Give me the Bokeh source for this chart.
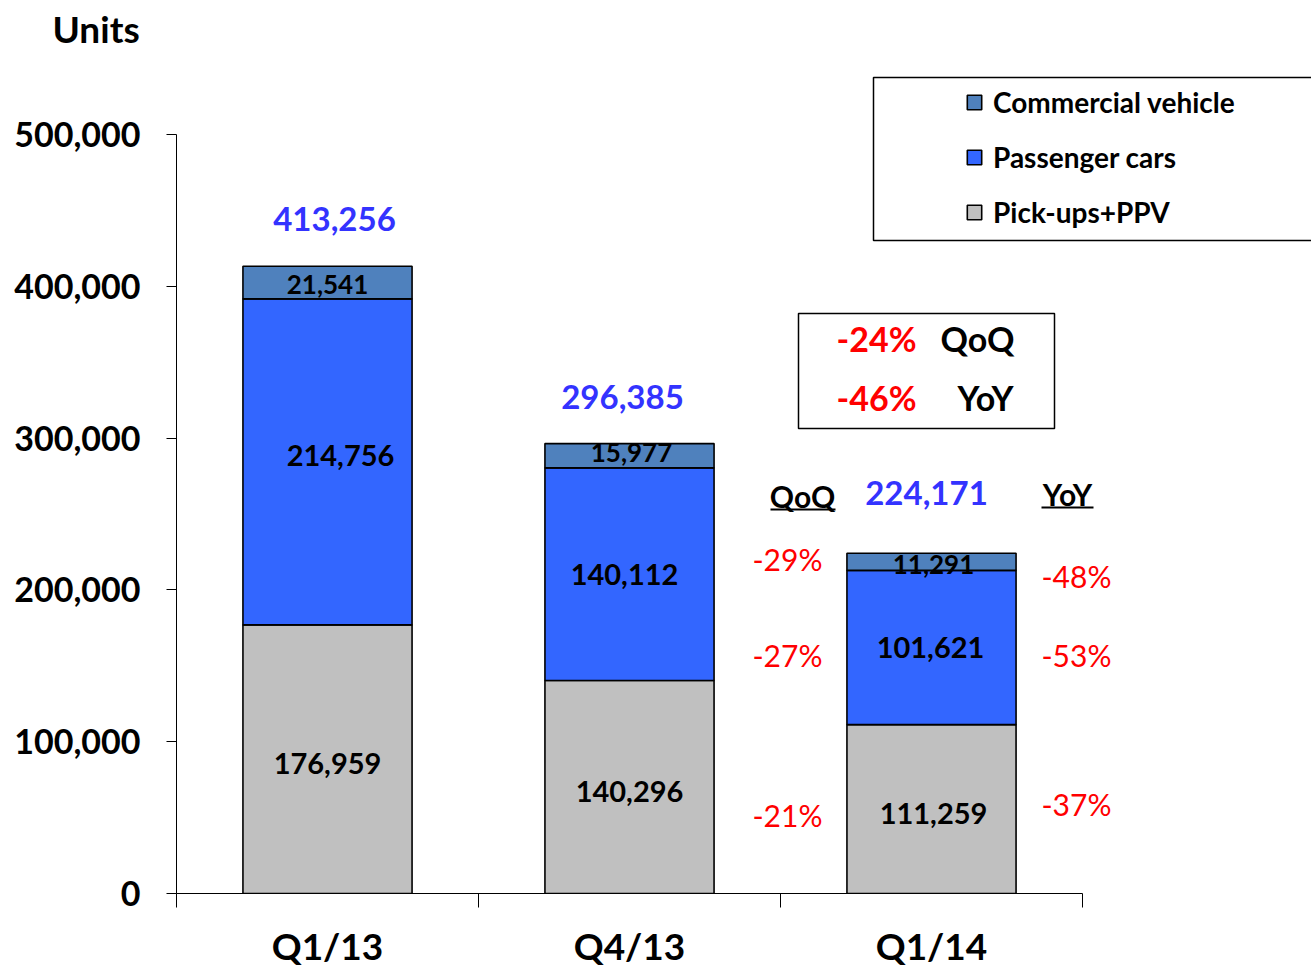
from bokeh.plotting import figure
from bokeh.models import (Range1d, FixedTicker, Legend, LegendItem, Label,
                          BoxAnnotation, ColumnDataSource, NumeralTickFormatter)
from bokeh.core.properties import value
from bokeh.embed import file_html
from bokeh.resources import INLINE

# ---------------- data ----------------
categories = ["Q1/13", "Q4/13", "Q1/14"]
pickups = [176959, 140296, 111259]
passenger = [214756, 140112, 101621]
commercial = [21541, 15977, 11291]
totals = [413256, 296385, 224171]
qoq_labels = ["-29%", "-27%", "-21%"]   # commercial, passenger, pick-ups (Q1/14 vs Q4/13)
yoy_labels = ["-48%", "-53%", "-37%"]   # commercial, passenger, pick-ups (Q1/14 vs Q1/13)
summary_qoq = "-24%"
summary_yoy = "-46%"
y_ticks = [0, 100000, 200000, 300000, 400000, 500000]
series_names = ["Pick-ups+PPV", "Passenger cars", "Commercial vehicle"]

# ---------------- style / layout ----------------
FONT = "Lato"
C_PICK, C_PASS, C_COMM = "#C0C0C0", "#3366FF", "#4F81BD"
BLUE_TXT, RED = "#3333FF", "#FF0000"
W, H = 1311, 970
LEFT = 176            # frame left
BOTTOM = 77           # bottom border (frame bottom at 893)
TOP = 54              # title band
CAT_PX = 302.0        # px per category
Y_PX = 759.0 / 500000 # px per unit
FH = H - BOTTOM - TOP
FW = W - LEFT

def fx(rx):  # picture x -> data x
    return (rx - LEFT) / CAT_PX

def fy(ry):  # picture y -> data y
    return (H - BOTTOM - ry) / Y_PX

p = figure(width=W, height=H, output_backend="svg", toolbar_location=None,
           x_range=Range1d(0, FW / CAT_PX), y_range=Range1d(0, FH / Y_PX),
           min_border_left=LEFT, min_border_right=0, min_border_top=TOP,
           min_border_bottom=BOTTOM)
p.outline_line_color = None
p.xgrid.grid_line_color = None
p.ygrid.grid_line_color = None
p.background_fill_color = "white"

p.title.text = "Units"
p.title.align = "left"
p.title.vertical_align = "top"
p.title.offset = -124
p.title.standoff = 4
p.title.text_font = FONT
p.title.text_font_style = "bold"
p.title.text_font_size = "37px"
p.title.text_color = "black"

n = len(categories)
xs = [i + 0.5 for i in range(n)]
src = ColumnDataSource(dict(x=xs, cat=categories, pickups=pickups,
                            passenger=passenger, commercial=commercial))
rs = p.vbar_stack(["pickups", "passenger", "commercial"], x="x", width=0.56,
                  color=[C_PICK, C_PASS, C_COMM], line_color="black",
                  line_width=1.6, source=src)

# ---------------- axes ----------------
yax = p.yaxis[0]
yax.ticker = FixedTicker(ticks=y_ticks)
yax.formatter = NumeralTickFormatter(format="0,0")
yax.bounds = (0, 500000)
yax.major_tick_out = 10
yax.major_tick_in = 0
yax.minor_tick_out = 0
yax.minor_tick_in = 0
yax.major_label_standoff = 26
yax.major_label_text_font = FONT
yax.major_label_text_font_style = "bold"
yax.major_label_text_font_size = "34px"
yax.major_label_text_color = "black"
yax.axis_line_color = "black"
yax.major_tick_line_color = "black"

xax = p.xaxis[0]
xax.ticker = FixedTicker(ticks=xs, minor_ticks=list(range(n + 1)))
xax.major_label_overrides = {x: c for x, c in zip(xs, categories)}
xax.bounds = (0, n)
xax.major_tick_out = 0
xax.major_tick_in = 0
xax.minor_tick_out = 14
xax.minor_tick_in = 0
xax.minor_tick_line_color = "black"
xax.major_label_standoff = 15
xax.major_label_text_font = FONT
xax.major_label_text_font_style = "bold"
xax.major_label_text_font_size = "37px"
xax.major_label_text_line_height = 1.0
xax.major_label_text_color = "black"
xax.axis_line_color = "black"

# ---------------- segment labels ----------------
mid_pick = [v / 2 for v in pickups]
mid_pass = [a + b / 2 for a, b in zip(pickups, passenger)]
mid_comm = [a + b + c / 2 for a, b, c in zip(pickups, passenger, commercial)]
fmt = lambda v: f"{v:,}"

big = ColumnDataSource(dict(
    x=xs + xs, y=mid_pick + mid_pass,
    t=[fmt(v) for v in pickups] + [fmt(v) for v in passenger],
    dx=[0, 0, 2, 13, -5, -1], dy=[4, 4, 4, -6, 0, 0]))
p.text("x", "y", text="t", source=big, x_offset="dx", y_offset="dy",
       text_font=value(FONT), text_font_style="bold", text_font_size="29px",
       text_align="center", text_baseline="middle", text_color="black")

small = ColumnDataSource(dict(x=xs, y=mid_comm, t=[fmt(v) for v in commercial],
                              dx=[0, 2, 2], dy=[2, -3, 3]))
p.text("x", "y", text="t", source=small, x_offset="dx", y_offset="dy",
       text_font=value(FONT), text_font_style="bold", text_font_size="26px",
       text_align="center", text_baseline="middle", text_color="black")

tot = ColumnDataSource(dict(x=xs, y=totals, t=[fmt(v) for v in totals],
                            dx=[7, -7, -5], dy=[-47, -47, -60]))
p.text("x", "y", text="t", source=tot, x_offset="dx", y_offset="dy",
       text_font=value(FONT), text_font_style="bold", text_font_size="33px",
       text_align="center", text_baseline="middle", text_color=BLUE_TXT)

# QoQ / YoY change labels next to Q1/14 bar
last = n - 1
chg = ColumnDataSource(dict(
    x=[xs[last] - 0.477] * 3 + [xs[last] + 0.48] * 3,
    y=[mid_comm[last], mid_pass[last], mid_pick[last]] * 2,
    t=qoq_labels + yoy_labels,
    dy=[-3, 8, 6, 14, 8, -5]))
p.text("x", "y", text="t", source=chg, y_offset="dy",
       text_font=value(FONT), text_font_size="30px",
       text_align="center", text_baseline="middle", text_color=RED)

# underlined headers
for txt, cx, cy, x0, x1, uy in [("QoQ", 802, 495, 770, 835, 509),
                                ("YoY", 1067, 493, 1041, 1093, 507)]:
    p.add_layout(Label(x=fx(cx), y=fy(cy), text=txt, text_font=FONT,
                       text_font_style="bold", text_font_size="30px",
                       text_color="black",
                       text_align="center", text_baseline="middle"))
    p.segment(x0=[fx(x0)], y0=[fy(uy)], x1=[fx(x1)], y1=[fy(uy)],
              line_color="black", line_width=2)

# summary box
p.add_layout(BoxAnnotation(left=fx(798), right=fx(1054), top=fy(313), bottom=fy(428),
                           fill_color=None, line_color="black", line_alpha=1,
                           line_width=1.5))
for txt, cx, cy, col in [(summary_qoq, 876, 338, RED), ("QoQ", 977, 338, "black"),
                         (summary_yoy, 876, 397, RED), ("YoY", 985, 397, "black")]:
    p.add_layout(Label(x=fx(cx), y=fy(cy), text=txt, text_font=FONT,
                       text_font_style="bold", text_font_size="34px",
                       text_color=col, text_align="center", text_baseline="middle"))

# legend box + legend
p.add_layout(BoxAnnotation(left=fx(873), right=fx(1400), top=fy(77), bottom=fy(240),
                           fill_color="white", fill_alpha=1, line_color="black",
                           line_alpha=1, line_width=1.5, level="overlay"))
legend = Legend(items=[LegendItem(label=series_names[2], renderers=[rs[2]]),
                       LegendItem(label=series_names[1], renderers=[rs[1]]),
                       LegendItem(label=series_names[0], renderers=[rs[0]])],
                location=(965 - LEFT, (H - BOTTOM) - 229),
                glyph_width=18, glyph_height=18, label_standoff=10,
                spacing=21, padding=0, margin=0, border_line_color=None,
                background_fill_alpha=0, label_text_font=FONT,
                label_text_font_style="bold", label_text_font_size="28px",
                label_text_color="black", level="overlay")
p.add_layout(legend, "center")

open("out.html", "w").write(file_html(p, INLINE))
